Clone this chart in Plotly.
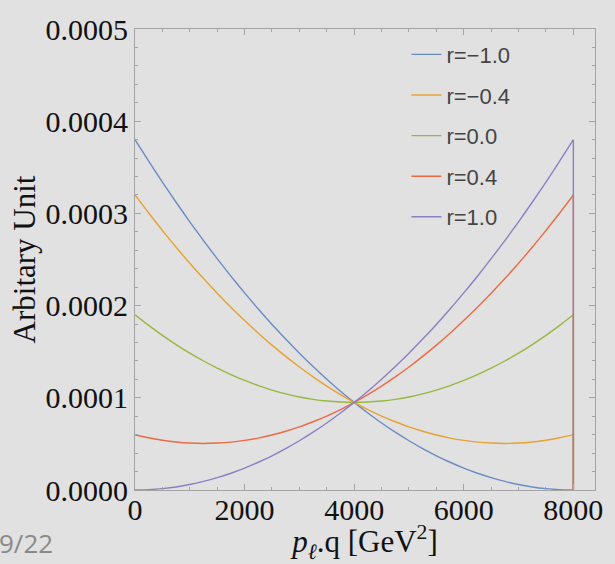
import plotly.graph_objects as go

# p_l.q grid [GeV^2]
pq = [0, 250, 500, 750, 1000, 1250, 1500, 1750, 2000, 2250, 2500, 2750,
      3000, 3250, 3500, 3750, 4000, 4250, 4500, 4750, 5000, 5250, 5500,
      5750, 6000, 6250, 6500, 6750, 7000, 7250, 7500, 7750, 8000]

# distributions in units of 1e-4
SCALE = 1e-4
r_m10 = [3.800, 3.566, 3.340, 3.121, 2.909, 2.705, 2.509, 2.319, 2.138,
         1.963, 1.796, 1.637, 1.484, 1.340, 1.202, 1.072, 0.950,
         0.835, 0.727, 0.627, 0.534, 0.449, 0.371, 0.301, 0.238,
         0.182, 0.134, 0.093, 0.059, 0.033, 0.015, 0.004, 0.000]
r_m04 = [3.200, 3.004, 2.815, 2.633, 2.459, 2.293, 2.134, 1.982, 1.838,
         1.701, 1.571, 1.449, 1.334, 1.227, 1.127, 1.035, 0.950,
         0.872, 0.802, 0.740, 0.684, 0.637, 0.596, 0.563, 0.538,
         0.519, 0.509, 0.505, 0.509, 0.521, 0.540, 0.566, 0.600]
r_00 = [1.900, 1.785, 1.677, 1.577, 1.484, 1.399, 1.321, 1.251, 1.188,
        1.132, 1.084, 1.043, 1.009, 0.983, 0.965, 0.954, 0.950,
        0.954, 0.965, 0.983, 1.009, 1.043, 1.084, 1.132, 1.188,
        1.251, 1.321, 1.399, 1.484, 1.577, 1.677, 1.785, 1.900]
r_p04 = [0.600, 0.566, 0.540, 0.521, 0.509, 0.505, 0.509, 0.519, 0.538,
         0.563, 0.596, 0.637, 0.684, 0.740, 0.802, 0.872, 0.950,
         1.035, 1.127, 1.227, 1.334, 1.449, 1.571, 1.701, 1.838,
         1.982, 2.134, 2.293, 2.459, 2.633, 2.815, 3.004, 3.200]
r_p10 = [0.000, 0.004, 0.015, 0.033, 0.059, 0.093, 0.134, 0.182, 0.238,
         0.301, 0.371, 0.449, 0.534, 0.627, 0.727, 0.835, 0.950,
         1.072, 1.202, 1.340, 1.484, 1.637, 1.796, 1.963, 2.138,
         2.319, 2.509, 2.705, 2.909, 3.121, 3.340, 3.566, 3.800]

labels = ["r=\u22121.0", "r=\u22120.4", "r=0.0", "r=0.4", "r=1.0"]
series = [r_m10, r_m04, r_00, r_p04, r_p10]
colors = ["#6a8cc4", "#e6a232", "#97b840", "#ec6a44", "#8c7fc2"]

x_ticks = [0, 2000, 4000, 6000, 8000]
y_ticks = [0.0, 0.0001, 0.0002, 0.0003, 0.0004, 0.0005]
y_ticktext = ["0.0000", "0.0001", "0.0002", "0.0003", "0.0004", "0.0005"]

BG = "#e1e1e1"
FRAME = "#a4a4a4"
SERIF = "Liberation Serif"
TICKFONT = dict(family=SERIF, size=30, color="#111111")
TITLEFONT = dict(family=SERIF, size=31, color="#111111")

fig = go.Figure()
for name, vals, col in zip(labels, series, colors):
    yv = [v * SCALE for v in vals]
    fig.add_trace(go.Scatter(
        x=pq, y=yv, mode="lines", name=name, legendgroup=name,
        line=dict(color=col, width=1.4, shape="spline", smoothing=0.6),
    ))
    # distribution is cut off at the kinematic endpoint
    fig.add_trace(go.Scatter(
        x=[pq[-1], pq[-1]], y=[yv[-1], 0], mode="lines",
        showlegend=False, legendgroup=name, hoverinfo="skip",
        line=dict(color=col, width=1.4),
    ))

fig.update_xaxes(
    range=[0, 8395], tickmode="array", tickvals=x_ticks,
    ticktext=[str(v) for v in x_ticks], tickfont=TICKFONT,
    ticklabelposition="outside", ticklabelstandoff=-7,
    showgrid=False, zeroline=False, showline=True, linecolor=FRAME,
    linewidth=1, mirror="allticks", ticks="inside", ticklen=6,
    tickcolor=FRAME, tickwidth=1,
    minor=dict(dtick=500, ticks="inside", ticklen=3, tickcolor=FRAME),
    title=dict(text="<i>p</i><sub><i>\u2113</i></sub>.q [GeV<sup>2</sup>]",
               font=TITLEFONT, standoff=3),
)
fig.update_yaxes(
    range=[0, 0.0005], tickmode="array", tickvals=y_ticks,
    ticktext=y_ticktext, tickfont=TICKFONT,
    showgrid=False, zeroline=False, showline=True, linecolor=FRAME,
    linewidth=1, mirror="allticks", ticks="inside", ticklen=6,
    tickcolor=FRAME, tickwidth=1,
    minor=dict(dtick=0.00002, ticks="inside", ticklen=3, tickcolor=FRAME),
    title=dict(text="Arbitary Unit", font=TITLEFONT, standoff=0),
)

fig.add_annotation(
    text="9/22", xref="paper", yref="paper", x=-0.175, y=-0.116,
    xanchor="right", yanchor="middle", showarrow=False,
    font=dict(family="Open Sans", size=26, color="#8a8a8a"),
)

fig.update_layout(
    width=615, height=564,
    margin=dict(l=135, r=12, t=22, b=74),
    paper_bgcolor=BG, plot_bgcolor=BG,
    font=dict(family=SERIF, size=30, color="#111111"),
    showlegend=True,
    legend=dict(
        x=0.590, y=0.99, xanchor="left", yanchor="top",
        bgcolor="rgba(0,0,0,0)", tracegroupgap=9,
        font=dict(family="Liberation Sans", size=22, color="#444444"),
    ),
)

fig.write_html("out.html")
